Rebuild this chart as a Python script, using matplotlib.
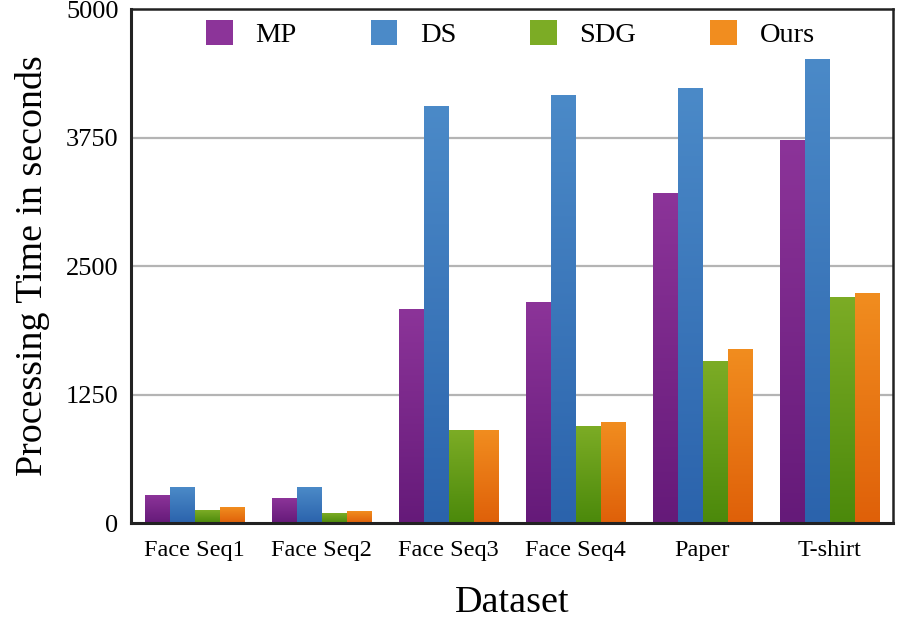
import numpy as np
import matplotlib
matplotlib.use("Agg")
import matplotlib.pyplot as plt
from matplotlib.colors import LinearSegmentedColormap
from matplotlib.patches import Patch

plt.rcParams['font.family'] = ['Liberation Serif', 'DejaVu Serif']

datasets = ["Face Seq1", "Face Seq2", "Face Seq3", "Face Seq4", "Paper", "T-shirt"]
methods = ["MP", "DS", "SDG", "Ours"]
mp = [263, 243, 2072, 2140, 3200, 3716]
ds = [350, 350, 4047, 4154, 4222, 4504]
sdg = [126, 88, 895, 934, 1566, 2189]
ours = [146, 107, 895, 973, 1683, 2228]
yticks = [0, 1250, 2500, 3750, 5000]

# (top colour, bottom colour) for each method
colors = [("#8c3499", "#651a79"),
          ("#4b8ac8", "#2b63ac"),
          ("#7cac25", "#4b890b"),
          ("#f18d1f", "#df6009")]

series = [mp, ds, sdg, ours]

fig = plt.figure(figsize=(8.97, 6.22), dpi=100)
ax = fig.add_axes([0.146, 0.159, 0.8495, 0.8265])

x = np.arange(len(datasets))
step = 0.197
width = 0.189
grad = np.linspace(0, 1, 256).reshape(-1, 1)

for k, vals in enumerate(series):
    top, bot = colors[k]
    cmap = LinearSegmentedColormap.from_list(methods[k], [bot, top])
    pos = x + (k - 1.5) * step
    bars = ax.bar(pos, vals, width=width, color=top, zorder=2)
    for b in bars:
        x0 = b.get_x()
        h = b.get_height()
        ax.imshow(grad, origin='lower', extent=[x0, x0 + width, 0, h],
                  cmap=cmap, vmin=0, vmax=1, aspect='auto', zorder=3)

ax.set_xlim(-0.5, len(datasets) - 0.5)
ax.set_ylim(0, 5000)
ax.set_aspect('auto')
ax.set_yticks(yticks)
ax.set_yticklabels([str(v) for v in yticks], fontsize=19)
ax.set_xticks(x)
ax.set_xticklabels(datasets, fontsize=17.5)
ax.tick_params(axis='y', length=0, pad=9)
ax.tick_params(axis='x', length=0, pad=12)

for v in yticks[1:-1]:
    ax.axhline(v, color="#b4b4b4", lw=1.6, zorder=1)

for name, s in ax.spines.items():
    s.set_linewidth(2.2 if name in ("left", "bottom") else 1.8)
    s.set_color("#222222")
    s.set_zorder(5)

ax.set_ylabel("Processing Time in seconds", fontsize=27.3, labelpad=11)
ax.set_xlabel("Dataset", fontsize=27.5, labelpad=18)

handles = [Patch(facecolor=colors[k][0], edgecolor='none') for k in range(4)]
ax.legend(handles, methods, loc='center', bbox_to_anchor=(0.498, 0.951),
          ncol=4, frameon=False, fontsize=20.5, handlelength=0.93,
          handleheight=0.95, handletextpad=0.8, columnspacing=2.6,
          borderpad=0, borderaxespad=0)

fig.savefig("out.png", dpi=100)
